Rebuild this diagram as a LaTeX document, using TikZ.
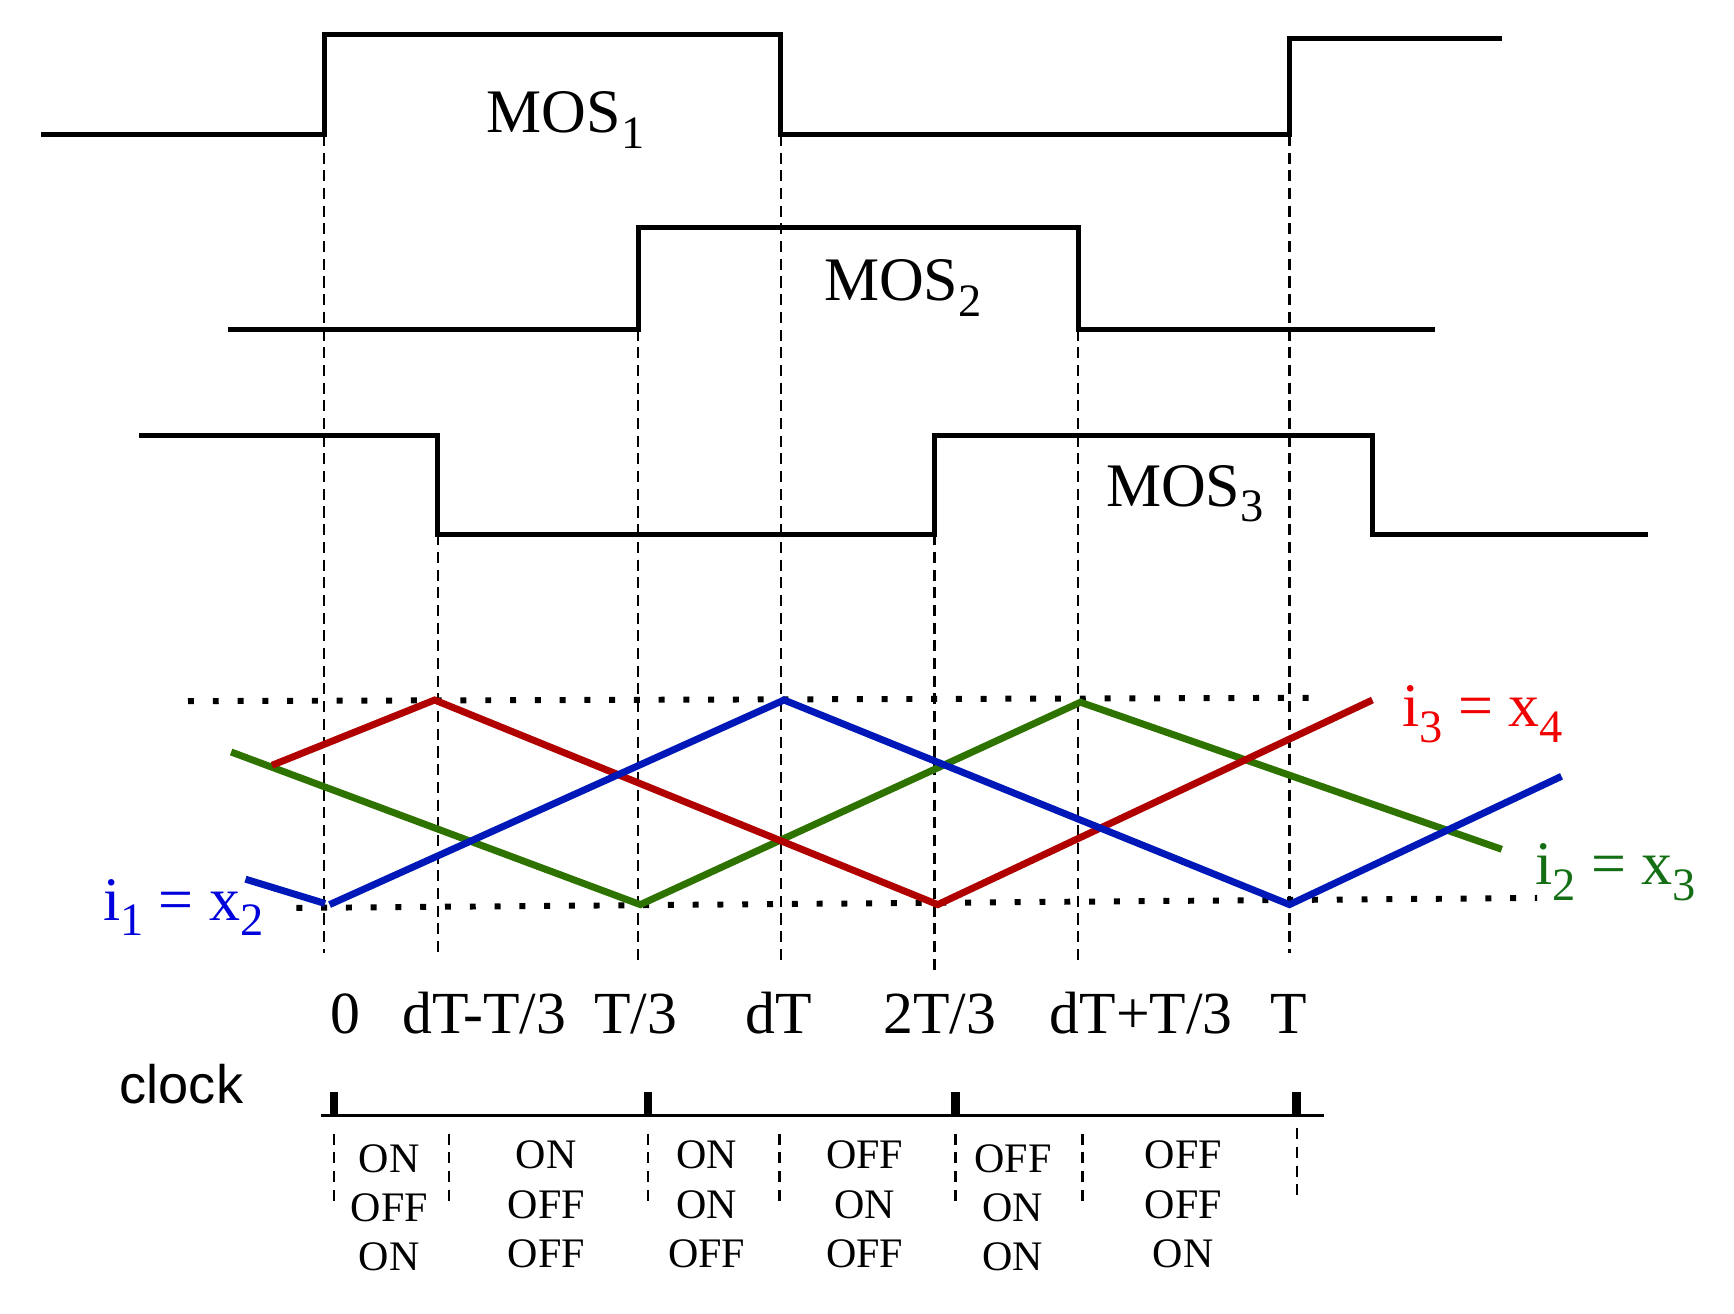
\documentclass[tikz,border=0pt]{standalone}
\usepackage{fontspec}
\setmainfont{Liberation Serif}
\setsansfont{Liberation Sans}
\newcommand\lowsub[1]{\raisebox{-14pt}{\fontsize{42}{42}\selectfont #1}}
\definecolor{bline}{RGB}{0,24,184}
\definecolor{rline}{RGB}{176,0,0}
\definecolor{gline}{RGB}{46,115,0}
\definecolor{blab}{RGB}{0,0,220}
\definecolor{rlab}{RGB}{240,0,0}
\definecolor{glab}{RGB}{20,110,20}
\begin{document}
\begin{tikzpicture}[x=1pt,y=-1pt,
  wave/.style={line width=4.5pt, line join=miter},
  guide/.style={line width=2.2pt, dash pattern=on 10pt off 6pt},
  level/.style={line width=5.4pt, dash pattern=on 5.4pt off 17pt},
  tri/.style={line width=6.3pt},
  biglab/.style={font=\fontsize{56}{60}\selectfont, inner sep=0pt, anchor=base west},
  timelab/.style={font=\fontsize{54}{60}\selectfont, inner sep=0pt, anchor=base},
  statelab/.style={font=\fontsize{38}{40}\selectfont, inner sep=0pt, anchor=base},
  tick/.style={line width=8pt},
  shortguide/.style={line width=2.2pt, dash pattern=on 10pt off 7pt}
]
\useasboundingbox (0,0) rectangle (1568,1188);

% vertical guides
\draw[guide] (293,122) -- (293,862);
\draw[guide] (396,483) -- (396,866);
\draw[guide] (577,298) -- (577,870);
\draw[guide] (706,122) -- (706,870);
\draw[guide] (845,483) -- (845,880);
\draw[guide] (975,298) -- (975,872);
\draw[guide] (1166,122) -- (1166,862);

% MOS waveforms
\draw[wave] (37,122) -- (293,122) -- (293,31) -- (706,31) -- (706,122) -- (1166,122) -- (1166,35) -- (1358,35);
\draw[wave] (206,298) -- (577,298) -- (577,206) -- (975,206) -- (975,298) -- (1298,298);
\draw[wave] (126,394) -- (396,394) -- (396,483) -- (845,483) -- (845,394) -- (1241,394) -- (1241,483) -- (1490,483);

\node[biglab] (mos1) at (440,120) {MOS\lowsub{1}};
\node[biglab] (mos2) at (745,272) {MOS\lowsub{2}};
\node[biglab] (mos3) at (1000,458) {MOS\lowsub{3}};

% dotted levels
\draw[level] (170,634) -- (1190,631);
\draw[level] (268,821) -- (1390,812);

% triangular currents
\draw[tri, gline] (209,680) -- (579,818) -- (977,635) -- (1358,768);
\draw[tri, rline] (246,692) -- (393,633) -- (848,818) -- (1241,633);
\draw[tri, bline] (222,795) -- (294,817);
\draw[tri, bline] (298,818) -- (709,633) -- (1166,818) -- (1412,702);

\node[biglab, text=blab] (i1) at (93,832) {i\lowsub{1} = x\lowsub{2}};
\node[biglab, text=rlab] (i3) at (1268,657) {i\lowsub{3} = x\lowsub{4}};
\node[biglab, text=glab] (i2) at (1388,800) {i\lowsub{2} = x\lowsub{3}};

% time labels
\node[timelab] (t0) at (312,935) {0};
\node[timelab] (t1) at (438,935) {dT-T/3};
\node[timelab] (t2) at (575,935) {T/3};
\node[timelab] (t3) at (704,935) {dT};
\node[timelab] (t4) at (850,935) {2T/3};
\node[timelab] (t5) at (1032,935) {dT+T/3};
\node[timelab] (t6) at (1165,935) {T};

% clock
\node[font=\sffamily\fontsize{49}{55}\selectfont, inner sep=0pt, anchor=base west] (clk) at (108,998) {clock};
\coordinate (cl0) at (290,1009);
\coordinate (cl1) at (1197,1009);
\draw[line width=3pt] (cl0) -- (cl1);
\foreach \x in {302,586,864,1172} \draw[tick] (\x,987) -- (\x,1010);

% short guides
\foreach \x in {302,406,586,705,864,979} \draw[shortguide] (\x,1025) -- (\x,1090);
\draw[shortguide] (1173,1020) -- (1173,1085);

% states
\foreach \c/\x/\y/\a/\b/\d in {1/352/1060/ON/OFF/ON, 2/494/1057/ON/OFF/OFF, 3/639/1057/ON/ON/OFF, 4/782/1057/OFF/ON/OFF, 5/916/1060/OFF/ON/ON, 6/1070/1057/OFF/OFF/ON}{
  \node[statelab] (s\c a) at (\x,\y) {\a};
  \node[statelab] (s\c b) at (\x,\y+45) {\b};
  \node[statelab] (s\c c) at (\x,\y+89) {\d};
}
\end{tikzpicture}
\end{document}
